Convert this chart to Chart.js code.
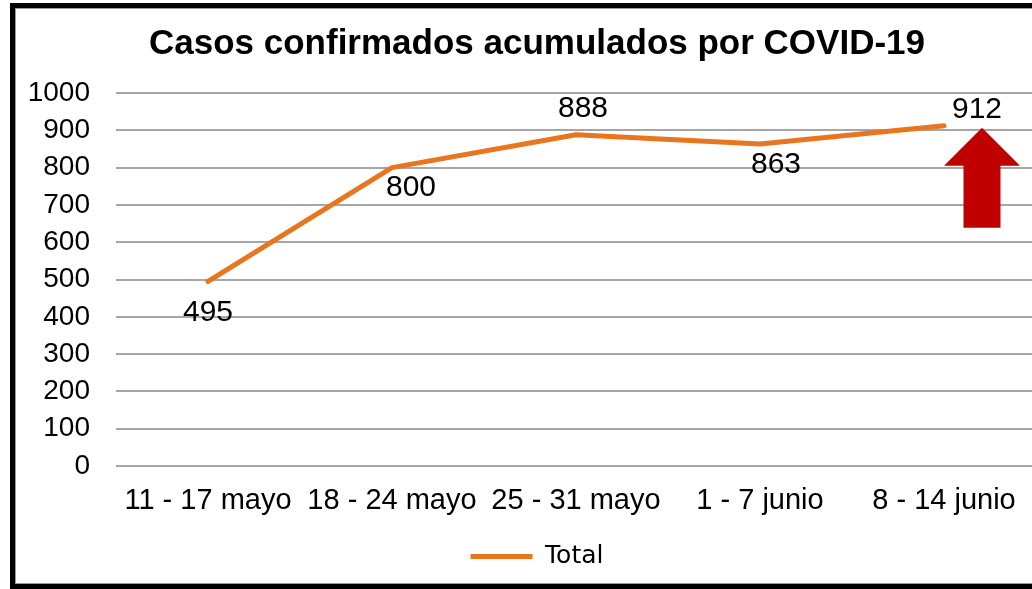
<!DOCTYPE html>
<html>
<head>
<meta charset="utf-8">
<script src="https://cdn.jsdelivr.net/npm/chart.js@4"></script>
<style>
  html, body { margin: 0; padding: 0; background: #fff; overflow: hidden; width: 1032px; height: 589px; }
  #frame { position: absolute; left: 10px; top: 3px; width: 1100px; height: 576px; border: 5px solid #000; box-shadow: inset 0 0 0 1px #9a9a9a; }
  #wrap { position: absolute; left: 0; top: 0; width: 1074px; height: 589px; }
</style>
</head>
<body>
<div id="frame"></div>
<div id="wrap"><canvas id="c" width="1074" height="589"></canvas></div>
<script>
const categories = ["11 - 17 mayo", "18 - 24 mayo", "25 - 31 mayo", "1 - 7 junio", "8 - 14 junio"];
const totalValues = [495, 800, 888, 863, 912];
const yTicks = [0, 100, 200, 300, 400, 500, 600, 700, 800, 900, 1000];
const seriesName = "Total";
const chartTitle = "Casos confirmados acumulados por COVID-19";

const lineColor = "#E8761E";

const valueLabels = {
  id: "valueLabels",
  afterDatasetsDraw(chart, args, opts) {
    const ctx = chart.ctx;
    const meta = chart.getDatasetMeta(0);
    ctx.save();
    ctx.font = opts.font;
    ctx.fillStyle = opts.color;
    ctx.textAlign = "center";
    ctx.textBaseline = "middle";
    meta.data.forEach((pt, i) => {
      const off = opts.offsets[i];
      ctx.fillText(String(chart.data.datasets[0].data[i]), pt.x + off[0], pt.y + off[1]);
    });
    ctx.restore();
  }
};

const arrowMark = {
  id: "arrowMark",
  afterDatasetsDraw(chart, args, opts) {
    const xs = chart.scales.x, ys = chart.scales.y;
    const last = totalValues.length - 1;
    const cx = xs.getPixelForValue(last) + opts.dx;
    const tipY = ys.getPixelForValue(totalValues[last]) + opts.dy;
    const ctx = chart.ctx;
    ctx.save();
    ctx.fillStyle = opts.color;
    ctx.beginPath();
    ctx.moveTo(cx, tipY);
    ctx.lineTo(cx + opts.headHalf, tipY + opts.headH);
    ctx.lineTo(cx + opts.shaftHalf, tipY + opts.headH);
    ctx.lineTo(cx + opts.shaftHalf, tipY + opts.totalH);
    ctx.lineTo(cx - opts.shaftHalf, tipY + opts.totalH);
    ctx.lineTo(cx - opts.shaftHalf, tipY + opts.headH);
    ctx.lineTo(cx - opts.headHalf, tipY + opts.headH);
    ctx.closePath();
    ctx.fill();
    ctx.restore();
  }
};

new Chart(document.getElementById("c"), {
  type: "line",
  data: {
    labels: categories,
    datasets: [{
      label: seriesName,
      data: totalValues,
      borderColor: lineColor,
      backgroundColor: lineColor,
      borderWidth: 5,
      borderJoinStyle: "round",
      borderCapStyle: "round",
      pointRadius: 0,
      tension: 0
    }]
  },
  options: {
    responsive: false,
    animation: false,
    layout: { padding: { left: 38, right: 38, top: 0, bottom: 10 } },
    plugins: {
      title: {
        display: true,
        text: chartTitle,
        color: "#000",
        font: { family: "'Liberation Sans', Arial, sans-serif", size: 35, weight: "bold" },
        padding: { top: 23, bottom: 28 }
      },
      legend: {
        display: true,
        position: "bottom",
        labels: {
          usePointStyle: true,
          pointStyle: "line",
          pointStyleWidth: 62,
          color: "#000",
          padding: 10,
          font: { family: "'DejaVu Sans', Verdana, sans-serif", size: 25 }
        }
      },
      tooltip: { enabled: false },
      valueLabels: {
        font: "30px 'Liberation Sans', Arial, sans-serif",
        color: "#000",
        offsets: [[0, 31], [19, 20], [7, -26], [16, 21], [33, -16]]
      },
      arrowMark: { color: "#C00000", dx: 38, dy: 2, headHalf: 38, headH: 38, shaftHalf: 18.5, totalH: 100 }
    },
    scales: {
      x: {
        offset: true,
        grid: { display: false, drawTicks: false },
        border: { display: false },
        ticks: { color: "#000", padding: 18, maxRotation: 0, autoSkip: false,
                 font: { family: "'Liberation Sans', Arial, sans-serif", size: 29 } },
        afterFit(scale) { scale.height = 68; }
      },
      y: {
        min: 0, max: 1000,
        afterBuildTicks(scale) { scale.ticks = yTicks.map(v => ({ value: v })); },
        grid: { color: "#a6a6a6", lineWidth: 2, drawTicks: false },
        border: { display: false },
        ticks: { color: "#000", padding: 26,
                 callback: (v) => String(v),
                 font: { family: "'Liberation Sans', Arial, sans-serif", size: 28 } },
        afterFit(scale) {
          scale.width = 78;
          scale._computeLabelArea = () => undefined;
        }
      }
    }
  },
  plugins: [valueLabels, arrowMark]
});
</script>
</body>
</html>
